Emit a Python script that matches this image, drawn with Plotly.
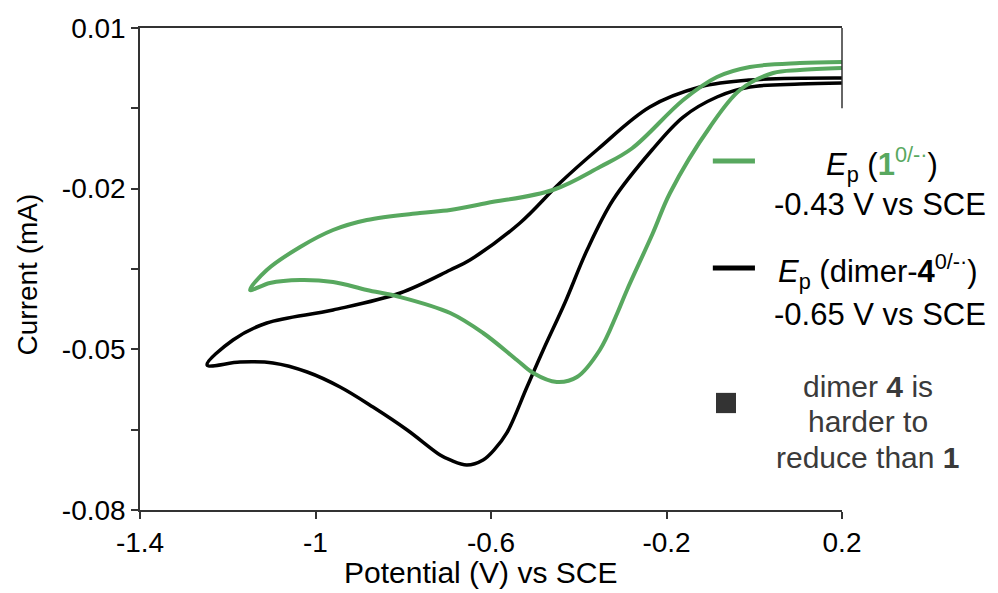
import plotly.graph_objects as go

# Compound 1 (green): cathodic sweep from 0.2 V then return sweep
green_v = [0.2, 0.104, 0.043, -0.0325, -0.101, -0.192, -0.231, -0.290, -0.313, -0.352,
           -0.404, -0.450, -0.504, -0.541, -0.618, -0.693, -0.807, -0.883, -0.960, -1.035,
           -1.104, -1.149,
           -1.111, -1.035, -0.960, -0.883, -0.762, -0.693, -0.609, -0.459, -0.352, -0.279,
           -0.162, -0.085, -0.010, 0.104, 0.2]
green_i = [0.00253, 0.00216, 0.00160, -0.00158, -0.00849, -0.02081, -0.02828, -0.03892, -0.04340, -0.05012,
           -0.05517, -0.05610, -0.05442, -0.05199, -0.04695, -0.04322, -0.04023, -0.03892, -0.03743, -0.03705,
           -0.03761, -0.03892,
           -0.03519, -0.03089, -0.02772, -0.02585, -0.02454, -0.02398, -0.02268, -0.02025, -0.01595, -0.01250,
           -0.00344, 0.00085, 0.00272, 0.00346, 0.00365]

# Dimer 4 (black)
black_v = [0.2, 0.104, -0.010, -0.085, -0.162, -0.233, -0.322, -0.381, -0.431, -0.481,
           -0.518, -0.564, -0.591, -0.618, -0.655, -0.693, -0.716, -0.791, -0.869, -0.944, -1.019,
           -1.097, -1.172, -1.247,
           -1.188, -1.111, -0.960, -0.807, -0.693, -0.648, -0.534, -0.443, -0.356, -0.238,
           -0.124, -0.010, 0.2]
black_i = [-0.00027, -0.00046, -0.00102, -0.00288, -0.00662, -0.01278, -0.02212, -0.03145, -0.04120, -0.05012,
           -0.05703, -0.06562, -0.06860, -0.07066, -0.07160, -0.07066, -0.06973, -0.06506, -0.06077, -0.05703, -0.05423,
           -0.05255, -0.05237, -0.05292,
           -0.04826, -0.04508, -0.04265, -0.03948, -0.03519, -0.03332, -0.02641, -0.01894, -0.01259, -0.00475,
           -0.00102, 0.00029, 0.00066]

x_tickvals = [-1.4, -1.0, -0.6, -0.2, 0.2]
x_ticktext = ["-1.4", "-1", "-0.6", "-0.2", "0.2"]
y_tickvals = [0.01, -0.02, -0.05, -0.08]
y_ticktext = ["0.01", "-0.02", "-0.05", "-0.08"]
y_minor_vals = [-0.005, -0.035, -0.065]

GREEN = "#58a85f"
FONT = "Liberation Sans, Arial, Helvetica, sans-serif"

fig = go.Figure()
fig.add_trace(go.Scatter(x=black_v, y=black_i, mode="lines", name="dimer-4",
                         line=dict(color="black", width=3.5, shape="spline", smoothing=1.0),
                         showlegend=False))
fig.add_trace(go.Scatter(x=green_v, y=green_i, mode="lines", name="1",
                         line=dict(color=GREEN, width=4, shape="spline", smoothing=1.0),
                         showlegend=False))

axis_common = dict(showline=True, linecolor="#333", linewidth=1.5,
                   ticks="outside", ticklen=7, tickcolor="#333", tickwidth=1.5,
                   showgrid=False, zeroline=False, tickfont=dict(size=28))

fig.update_layout(
    width=998, height=593,
    margin=dict(l=140, r=156, t=28, b=83),
    paper_bgcolor="white", plot_bgcolor="white",
    font=dict(family=FONT, color="black", size=24),
    xaxis=dict(range=[-1.4, 0.2], tickvals=x_tickvals, ticktext=x_ticktext, mirror=True,
               **axis_common),
    yaxis=dict(range=[-0.08, 0.01], tickvals=y_tickvals, ticktext=y_ticktext,
               minor=dict(tickvals=y_minor_vals, ticks="outside", ticklen=7,
                          tickcolor="#333", tickwidth=1.5, showgrid=False),
               **axis_common),
)

# partial right border
fig.add_shape(type="line", xref="paper", yref="y", x0=1, x1=1, y0=0.01, y1=-0.005,
              line=dict(color="#333", width=1.5))

# axis titles
fig.add_annotation(text="Current (mA)", xref="paper", yref="paper", x=-0.16, y=0.488,
                   xanchor="center", yanchor="middle",
                   textangle=-90, showarrow=False, font=dict(size=28))
fig.add_annotation(text="Potential (V) vs SCE", xref="paper", yref="paper", x=0.485, y=-0.129,
                   xanchor="center", yanchor="middle", showarrow=False, font=dict(size=30))

# legend-like annotations
fig.add_shape(type="line", xref="paper", yref="paper", x0=0.816, x1=0.876, y0=0.724, y1=0.724,
              line=dict(color=GREEN, width=5))
fig.add_shape(type="line", xref="paper", yref="paper", x0=0.816, x1=0.876, y0=0.502, y1=0.502,
              line=dict(color="black", width=5))
fig.add_shape(type="rect", xref="paper", yref="paper", x0=0.8205, x1=0.849, y0=0.201, y1=0.243,
              line=dict(width=0), fillcolor="#333333")

legend_font = dict(size=31, color="black")

def note(text, x, y, font):
    fig.add_annotation(text=text, xref="paper", yref="paper", x=x, y=y,
                       xanchor="center", yanchor="middle", showarrow=False, font=font)

note("<i>E</i><sub>p</sub> (<span style='color:%s'><b>1</b><sup>0/-·</sup></span>)" % GREEN,
     1.057, 0.716, legend_font)
note("-0.43 V vs SCE", 1.054, 0.633, legend_font)
note("<i>E</i><sub>p</sub> (dimer-<b>4</b><sup>0/-·</sup>)", 1.051, 0.494, legend_font)
note("-0.65 V vs SCE", 1.054, 0.405, legend_font)
note_font = dict(size=30, color="#3a3a3a")
note("dimer <b>4</b> is", 1.037, 0.257, note_font)
note("harder to", 1.037, 0.183, note_font)
note("reduce than <b>1</b>", 1.037, 0.108, note_font)

fig.write_html("out.html", config={"displayModeBar": False},
               post_script="document.body.style.margin='0';")
